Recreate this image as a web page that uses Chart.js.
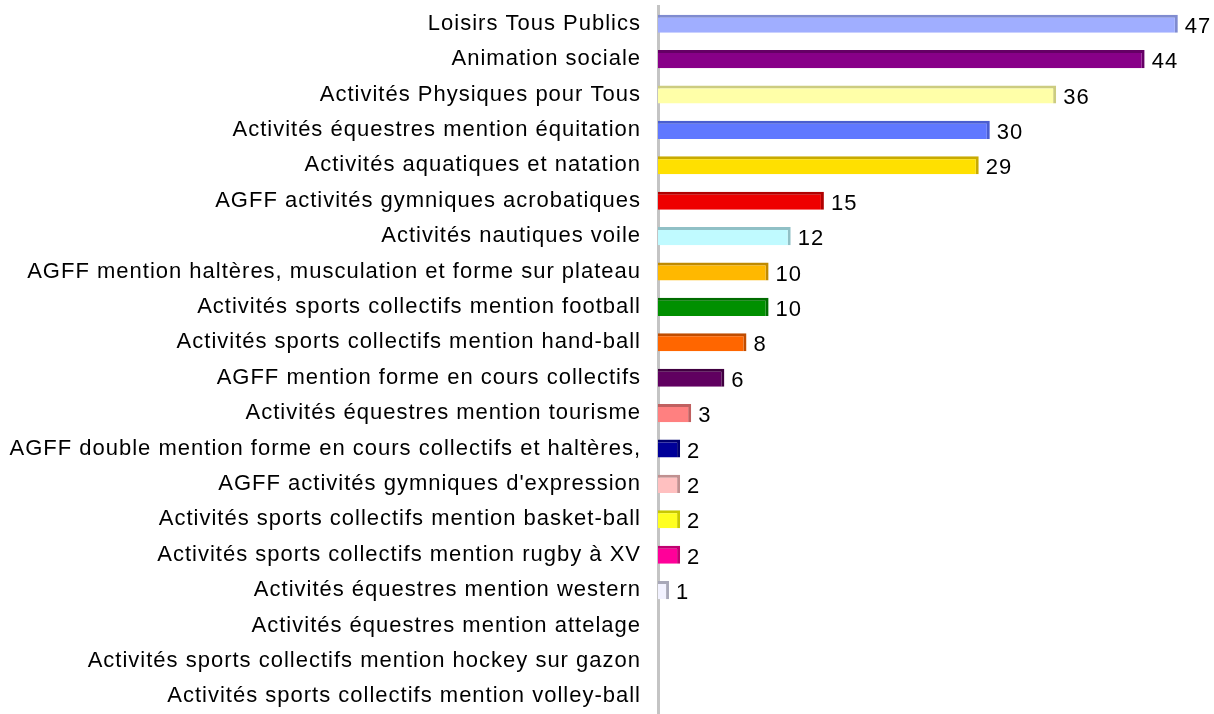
<!DOCTYPE html>
<html>
<head>
<meta charset="utf-8">
<script src="https://cdn.jsdelivr.net/npm/chart.js@4"></script>
<style>
  html, body { margin: 0; padding: 0; background: #fff; }
  #wrap { width: 1214px; height: 714px; position: relative; }
</style>
</head>
<body>
<div id="wrap"><canvas id="chart"></canvas></div>
<script>
const categories = [
    'Loisirs Tous Publics',
    'Animation sociale',
    'Activités Physiques pour Tous',
    'Activités équestres mention équitation',
    'Activités aquatiques et natation',
    'AGFF activités gymniques acrobatiques',
    'Activités nautiques voile',
    'AGFF mention haltères, musculation et forme sur plateau',
    'Activités sports collectifs mention football',
    'Activités sports collectifs mention hand-ball',
    'AGFF mention forme en cours collectifs',
    'Activités équestres mention tourisme',
    'AGFF double mention forme en cours collectifs et haltères,',
    "AGFF activités gymniques d'expression",
    'Activités sports collectifs mention basket-ball',
    'Activités sports collectifs mention rugby à XV',
    'Activités équestres mention western',
    'Activités équestres mention attelage',
    'Activités sports collectifs mention hockey sur gazon',
    'Activités sports collectifs mention volley-ball'
];
const counts = [47, 44, 36, 30, 29, 15, 12, 10, 10, 8, 6, 3, 2, 2, 2, 2, 1, 0, 0, 0];

const fillColors = [
    '#A0AEFF', '#880088', '#FFFFA8', '#6078FF', '#FFE000', '#EE0000', '#C0FAFF',
    '#FFB800', '#009000', '#FF6600', '#600060', '#FF8080', '#000099', '#FFC0C0',
    '#FFFF20', '#FF0099', '#F2F2FF', '#cccccc', '#cccccc', '#cccccc'
];
const edgeColors = [
    '#7F8BD0', '#650065', '#CCCC80', '#4A5ED0', '#C8AA00', '#B00000', '#90C0C6',
    '#C08A00', '#006C00', '#C04C00', '#400040', '#C06060', '#000070', '#C09090',
    '#C8C800', '#C00070', '#A8A8B8', '#999999', '#999999', '#999999'
];

const FONT = '"Liberation Sans", Arial, sans-serif';

// the reference text is slightly spaced out, canvas state gets reset on resize so set it each draw
const spacing = {
    id: 'spacing',
    beforeDraw(chart) { chart.ctx.letterSpacing = '1px'; }
};

const valueLabels = {
    id: 'valueLabels',
    afterDatasetsDraw(chart) {
        const ctx = chart.ctx;
        const meta = chart.getDatasetMeta(0);
        ctx.save();
        ctx.font = '22px ' + FONT;
        ctx.fillStyle = '#000';
        ctx.textAlign = 'left';
        ctx.textBaseline = 'middle';
        meta.data.forEach((bar, i) => {
            if (!counts[i]) return;
            ctx.fillText(String(counts[i]), bar.x + 7, bar.y + 3);
        });
        ctx.restore();
    }
};

new Chart(document.getElementById('chart'), {
    type: 'bar',
    data: {
        labels: categories,
        datasets: [{
            data: counts,
            backgroundColor: fillColors,
            borderColor: edgeColors,
            borderWidth: { top: 3, right: 3, bottom: 0, left: 0 },
            borderSkipped: false,
            categoryPercentage: 1,
            barPercentage: 0.51
        }]
    },
    options: {
        indexAxis: 'y',
        responsive: true,
        maintainAspectRatio: false,
        animation: false,
        events: [],
        layout: { padding: { top: 6, right: 3, bottom: 0, left: 0 } },
        plugins: {
            legend: { display: false },
            tooltip: { enabled: false }
        },
        scales: {
            x: {
                display: false,
                min: 0,
                max: 50
            },
            y: {
                afterFit(scale) {
                    scale.width = 658;
                    scale.paddingTop = 0;
                    scale.paddingBottom = 0;
                },
                grid: { display: false, drawTicks: false },
                border: { display: true, color: '#C4C4C4', width: 3 },
                ticks: {
                    color: '#000',
                    padding: 17,
                    autoSkip: false,
                    font: { family: FONT, size: 22 }
                }
            }
        }
    },
    plugins: [spacing, valueLabels]
});
</script>
</body>
</html>
